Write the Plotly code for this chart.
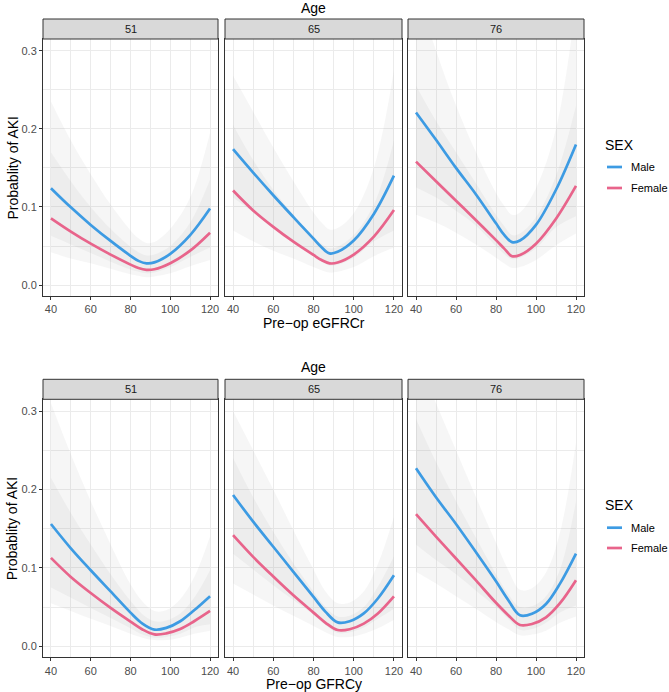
import plotly.graph_objects as go
from plotly.subplots import make_subplots

W, H = 669, 692

AGES = ["51", "65", "76"]
SEX = ["Male", "Female"]
SEX_COLORS = ["#3D9BE3", "#E8648B"]
GFR_ECR = [40, 50, 60, 70, 80, 84, 88, 92, 100, 110, 120]
GFR_CYS = [40, 50, 60, 70, 80, 86, 92, 98, 105, 112, 120]
X_TICKS = [40, 60, 80, 100, 120]
X_MINOR = [50, 70, 90, 110]
Y_TICKS = [0.0, 0.1, 0.2, 0.3]
Y_TICK_TEXT = ["0.0", "0.1", "0.2", "0.3"]
Y_MINOR = [0.05, 0.15, 0.25]
ROW_XTITLES = ["Pre\u2212op eGFRCr", "Pre\u2212op GFRCy"]
Y_TITLE = "Probablity of AKI"
FACET_TITLE = "Age"
LEGEND_TITLE = "SEX"

# ---- Top row: Pre-op eGFRCr (x = GFR_ECR) ----
ECR_51_MALE_FIT = [.124, .0995, .077, .0565, .0375, .031, .0278, .029, .040, .064, .098]
ECR_51_MALE_LO = [.063, .052, .041, .030, .020, .017, .015, .016, .023, .036, .048]
ECR_51_MALE_HI = [.235, .185, .142, .103, .070, .060, .054, .055, .072, .112, .195]
ECR_51_FEMALE_FIT = [.0855, .0685, .053, .039, .0262, .0218, .0195, .0203, .028, .044, .067]
ECR_51_FEMALE_LO = [.042, .034, .028, .021, .014, .012, .010, .011, .015, .024, .032]
ECR_51_FEMALE_HI = [.170, .133, .100, .072, .049, .042, .038, .039, .050, .080, .135]

ECR_65_MALE_FIT = [.174, .144, .115, .087, .0595, .0485, .0405, .0425, .057, .091, .140]
ECR_65_MALE_LO = [.112, .093, .073, .055, .038, .030, .025, .026, .035, .056, .070]
ECR_65_MALE_HI = [.268, .222, .176, .133, .093, .080, .071, .073, .092, .150, .275]
ECR_65_FEMALE_FIT = [.121, .0955, .0745, .0555, .0385, .032, .0278, .0288, .039, .062, .096]
ECR_65_FEMALE_LO = [.070, .056, .044, .034, .023, .019, .016, .017, .023, .037, .048]
ECR_65_FEMALE_HI = [.205, .160, .122, .090, .062, .053, .047, .049, .064, .103, .185]

ECR_76_MALE_FIT = [.221, .186, .150, .116, .079, .0645, .0550, .0570, .077, .122, .180]
ECR_76_MALE_LO = [.125, .112, .095, .076, .050, .040, .033, .035, .047, .074, .088]
ECR_76_MALE_HI = [.380, .300, .230, .170, .118, .102, .090, .093, .124, .200, .360]
ECR_76_FEMALE_FIT = [.158, .133, .108, .083, .0575, .047, .0370, .0385, .053, .085, .127]
ECR_76_FEMALE_LO = [.090, .080, .067, .052, .035, .028, .022, .023, .032, .051, .066]
ECR_76_FEMALE_HI = [.255, .210, .170, .130, .090, .076, .064, .066, .087, .140, .230]

# ---- Bottom row: Pre-op GFRCy (x = GFR_CYS) ----
CYS_51_MALE_FIT = [.156, .125, .097, .070, .043, .029, .0213, .0235, .032, .046, .064]
CYS_51_MALE_LO = [.075, .062, .049, .036, .023, .015, .011, .012, .016, .024, .028]
CYS_51_MALE_HI = [.310, .245, .185, .130, .079, .057, .045, .046, .060, .088, .140]
CYS_51_FEMALE_FIT = [.1128, .0885, .068, .049, .0315, .0215, .0152, .0165, .022, .032, .0451]
CYS_51_FEMALE_LO = [.055, .045, .035, .026, .016, .011, .008, .008, .011, .016, .020]
CYS_51_FEMALE_HI = [.215, .170, .130, .092, .058, .041, .032, .033, .042, .062, .097]

CYS_65_MALE_FIT = [.193, .159, .127, .095, .063, .044, .0305, .032, .042, .061, .0906]
CYS_65_MALE_LO = [.118, .098, .078, .059, .040, .027, .017, .018, .024, .035, .048]
CYS_65_MALE_HI = [.300, .250, .200, .148, .098, .070, .055, .056, .070, .105, .165]
CYS_65_FEMALE_FIT = [.1417, .114, .089, .065, .043, .030, .0208, .0218, .029, .042, .0638]
CYS_65_FEMALE_LO = [.080, .066, .052, .039, .026, .018, .012, .012, .016, .023, .034]
CYS_65_FEMALE_HI = [.240, .190, .146, .106, .070, .050, .038, .039, .050, .076, .115]

CYS_76_MALE_FIT = [.227, .190, .156, .120, .083, .0595, .0395, .0415, .054, .080, .1183]
CYS_76_MALE_LO = [.130, .110, .092, .071, .050, .035, .021, .022, .030, .043, .052]
CYS_76_MALE_HI = [.370, .310, .250, .190, .132, .098, .072, .074, .094, .145, .260]
CYS_76_FEMALE_FIT = [.1685, .140, .112, .084, .0555, .040, .0272, .0285, .037, .055, .0843]
CYS_76_FEMALE_LO = [.095, .080, .064, .048, .031, .022, .014, .015, .020, .030, .038]
CYS_76_FEMALE_HI = [.290, .235, .185, .138, .092, .067, .050, .051, .064, .098, .185]

ROW_GFR = [GFR_ECR, GFR_CYS]
PANELS = [
    [  # row 1
        [(ECR_51_MALE_FIT, ECR_51_MALE_LO, ECR_51_MALE_HI), (ECR_51_FEMALE_FIT, ECR_51_FEMALE_LO, ECR_51_FEMALE_HI)],
        [(ECR_65_MALE_FIT, ECR_65_MALE_LO, ECR_65_MALE_HI), (ECR_65_FEMALE_FIT, ECR_65_FEMALE_LO, ECR_65_FEMALE_HI)],
        [(ECR_76_MALE_FIT, ECR_76_MALE_LO, ECR_76_MALE_HI), (ECR_76_FEMALE_FIT, ECR_76_FEMALE_LO, ECR_76_FEMALE_HI)],
    ],
    [  # row 2
        [(CYS_51_MALE_FIT, CYS_51_MALE_LO, CYS_51_MALE_HI), (CYS_51_FEMALE_FIT, CYS_51_FEMALE_LO, CYS_51_FEMALE_HI)],
        [(CYS_65_MALE_FIT, CYS_65_MALE_LO, CYS_65_MALE_HI), (CYS_65_FEMALE_FIT, CYS_65_FEMALE_LO, CYS_65_FEMALE_HI)],
        [(CYS_76_MALE_FIT, CYS_76_MALE_LO, CYS_76_MALE_HI), (CYS_76_FEMALE_FIT, CYS_76_FEMALE_LO, CYS_76_FEMALE_HI)],
    ],
]

# ---- layout geometry (pixels) ----
def px(v):
    return v / W

def py(v):
    return 1 - v / H

COL_X = [(43, 218), (225, 402), (408, 584)]
ROW_PLOT_Y = [(39, 296), (399.3, 657.3)]
ROW_STRIP_Y = [(19, 39), (379.3, 399.3)]
ROW_AGE_Y = [8, 367]
ROW_XTITLE_Y = [323, 684]
ROW_LEG_Y = [(145, 167, 188), (505, 527.7, 548)]

FONT = "Liberation Sans, Arial, sans-serif"
GRID = "#ebebeb"
DARK = "#333333"
BAND = "rgba(160,160,160,0.09)"

fig = make_subplots(rows=2, cols=3)

for r in range(2):
    gx = ROW_GFR[r]
    for c in range(3):
        for s in range(2):
            fit, lo, hi = PANELS[r][c][s]
            fig.add_trace(go.Scatter(x=gx, y=lo, mode="lines", line=dict(width=0, shape="spline"),
                                     hoverinfo="skip", showlegend=False), row=r + 1, col=c + 1)
            fig.add_trace(go.Scatter(x=gx, y=hi, mode="lines", line=dict(width=0, shape="spline"),
                                     fill="tonexty", fillcolor=BAND, hoverinfo="skip", showlegend=False),
                          row=r + 1, col=c + 1)
        for s in range(2):
            fit, lo, hi = PANELS[r][c][s]
            fig.add_trace(go.Scatter(x=gx, y=fit, mode="lines", name=SEX[s],
                                     line=dict(color=SEX_COLORS[s], width=2.7, shape="spline"),
                                     showlegend=False), row=r + 1, col=c + 1)

shapes = []
annotations = []
for r in range(2):
    for c in range(3):
        idx = r * 3 + c + 1
        xa = "xaxis" if idx == 1 else f"xaxis{idx}"
        ya = "yaxis" if idx == 1 else f"yaxis{idx}"
        x0, x1 = COL_X[c]
        y0, y1 = ROW_PLOT_Y[r]
        fig.layout[xa].update(
            domain=[px(x0), px(x1)], range=[36, 124], tickmode="array", tickvals=X_TICKS,
            ticks="outside", ticklen=3, tickwidth=1, tickcolor=DARK,
            tickfont=dict(size=11, color="#4d4d4d", family=FONT),
            showgrid=True, gridcolor=GRID, gridwidth=1,
            minor=dict(tickvals=X_MINOR, showgrid=True, gridcolor=GRID, gridwidth=0.5, ticks=""),
            showline=True, mirror=True, linecolor=DARK, linewidth=1, zeroline=False,
        )
        fig.layout[ya].update(
            domain=[py(y1), py(y0)], range=[-0.014, 0.315], tickmode="array",
            tickvals=Y_TICKS, ticktext=Y_TICK_TEXT,
            ticks="outside" if c == 0 else "", ticklen=3, tickwidth=1, tickcolor=DARK,
            showticklabels=(c == 0),
            tickfont=dict(size=11, color="#4d4d4d", family=FONT),
            showgrid=True, gridcolor=GRID, gridwidth=1,
            minor=dict(tickvals=Y_MINOR, showgrid=True, gridcolor=GRID, gridwidth=0.5, ticks=""),
            showline=True, mirror=True, linecolor=DARK, linewidth=1, zeroline=False,
        )
        sy0, sy1 = ROW_STRIP_Y[r]
        shapes.append(dict(type="rect", xref="paper", yref="paper",
                           x0=px(x0), x1=px(x1), y0=py(sy1), y1=py(sy0),
                           fillcolor="#d9d9d9", line=dict(color=DARK, width=1)))
        annotations.append(dict(text=AGES[c], xref="paper", yref="paper",
                                x=px((x0 + x1) / 2), y=py((sy0 + sy1) / 2),
                                xanchor="center", yanchor="middle", showarrow=False,
                                font=dict(size=11, color="#1a1a1a", family=FONT)))
    mid_x = px((COL_X[0][0] + COL_X[2][1]) / 2)
    annotations.append(dict(text=FACET_TITLE, xref="paper", yref="paper", x=mid_x, y=py(ROW_AGE_Y[r]),
                            xanchor="center", yanchor="middle", showarrow=False,
                            font=dict(size=14, color="black", family=FONT)))
    annotations.append(dict(text=ROW_XTITLES[r], xref="paper", yref="paper", x=mid_x, y=py(ROW_XTITLE_Y[r]),
                            xanchor="center", yanchor="middle", showarrow=False,
                            font=dict(size=14, color="black", family=FONT)))
    annotations.append(dict(text=Y_TITLE, xref="paper", yref="paper", x=px(12),
                            y=py(sum(ROW_PLOT_Y[r]) / 2), textangle=-90,
                            xanchor="center", yanchor="middle", showarrow=False,
                            font=dict(size=14, color="black", family=FONT)))
    ty, my, fy = ROW_LEG_Y[r]
    annotations.append(dict(text=LEGEND_TITLE, xref="paper", yref="paper", x=px(603), y=py(ty),
                            xanchor="left", yanchor="middle", showarrow=False,
                            font=dict(size=14, color="black", family=FONT)))
    for s, yy in enumerate([my, fy]):
        shapes.append(dict(type="line", xref="paper", yref="paper", x0=px(607), x1=px(622),
                           y0=py(yy), y1=py(yy), line=dict(color=SEX_COLORS[s], width=2.7)))
        annotations.append(dict(text=SEX[s], xref="paper", yref="paper", x=px(629), y=py(yy),
                                xanchor="left", yanchor="middle", showarrow=False,
                                font=dict(size=11, color="black", family=FONT)))

fig.update_layout(
    width=W, height=H, margin=dict(l=0, r=0, t=0, b=0),
    paper_bgcolor="white", plot_bgcolor="white",
    showlegend=False, shapes=shapes, annotations=annotations,
    font=dict(family=FONT),
)

fig.write_html("out.html", config={"displayModeBar": False},
               post_script="document.body.style.margin='0px';document.body.style.padding='0px';"
                           "document.body.style.overflow='hidden';")
